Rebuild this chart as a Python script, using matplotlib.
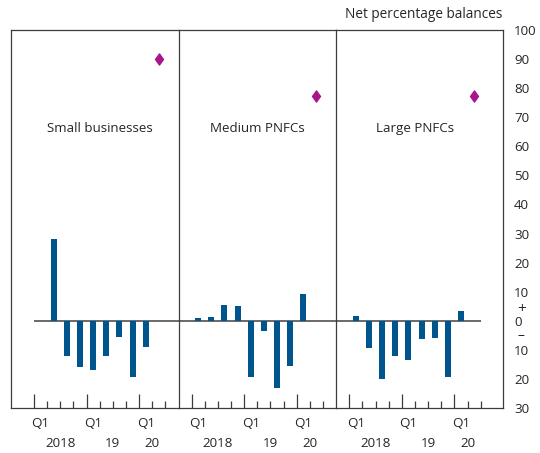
import numpy as np
import matplotlib
matplotlib.use("Agg")
import matplotlib.pyplot as plt
from matplotlib.path import Path
from matplotlib.transforms import blended_transform_factory

# ── Data: net percentage balances, 2018 Q1 – 2020 Q1, plus 2020 Q2 expectation ──
QUARTERS = ["2018 Q1", "2018 Q2", "2018 Q3", "2018 Q4",
            "2019 Q1", "2019 Q2", "2019 Q3", "2019 Q4",
            "2020 Q1", "2020 Q2"]

PANELS = ["Small businesses", "Medium PNFCs", "Large PNFCs"]

small_balance = [np.nan, 28, -12, -16, -17, -12, -5.5, -19.5, -9]
medium_balance = [1, 1.3, 5.5, 5.1, -19.3, -3.5, -23.2, -15.5, 9.2]
large_balance = [1.7, -9.2, -20, -12, -13.4, -6.1, -5.8, -19.3, 3.5]

expected_q2 = [90, 77.2, 77.4]

Y_TICKS = [100, 90, 80, 70, 60, 50, 40, 30, 20, 10, 0, -10, -20, -30]
Y_LABELS = ["100", "90", "80", "70", "60", "50", "40", "30", "20", "10",
            "0", "10", "20", "30"]

Q1_POS = [0, 4, 8]
YEAR_POS = [1.5, 5.5, 8.5]
YEAR_LABELS = ["2018", "19", "20"]

# ── Style ──
BAR_COLOR = "#00558E"
DIAMOND_COLOR = "#A8168E"
LINE_COLOR = "#3C3C3C"
TEXT_COLOR = "#262626"

plt.rcParams["font.family"] = ["Open Sans", "DejaVu Sans"]
plt.rcParams["font.size"] = 9.2

# x-limits per panel (in quarter slots) so the panels share a common spacing
XLIMS = [(-2.25, 10.57), (-1.42, 10.46), (-1.54, 11.2)]
widths = [hi - lo for lo, hi in XLIMS]

fig = plt.figure(figsize=(5.4, 4.53), dpi=100)
gs = fig.add_gridspec(1, 3, width_ratios=widths, wspace=0,
                      left=11 / 540, right=503 / 540,
                      top=1 - 30 / 453, bottom=1 - 408 / 453)
axes = [fig.add_subplot(gs[0, i]) for i in range(3)]

# tall thin diamond marker
diamond = Path([(0, 1), (0.72, 0), (0, -1), (-0.72, 0), (0, 1)],
               [Path.MOVETO, Path.LINETO, Path.LINETO, Path.LINETO, Path.CLOSEPOLY])

series = [small_balance, medium_balance, large_balance]
x = np.arange(len(QUARTERS))
boundaries = np.arange(-0.5, len(QUARTERS), 1.0)
minor_y = [v for v in Y_TICKS if v not in (100, 0, -30)]

for i, ax in enumerate(axes):
    vals = np.array(series[i], dtype=float)
    ax.bar(x[:len(vals)], vals, width=0.46, color=BAR_COLOR, zorder=3)
    ax.plot(x[-1], expected_q2[i], marker=diamond, markersize=8,
            color=DIAMOND_COLOR, linestyle="none", zorder=4)

    lo, hi = XLIMS[i]
    ax.set_xlim(lo, hi)
    ax.set_ylim(-30, 100)

    # zero line runs continuously across the quarter range of all panels
    z_lo = boundaries[0] if i == 0 else lo
    z_hi = boundaries[-1] if i == 2 else hi
    ax.hlines(0, z_lo, z_hi, color="#505050", linewidth=1.2, zorder=2)

    ax.text(4.5, 66, PANELS[i], ha="center", va="center",
            color=TEXT_COLOR, fontsize=9.6)

    # spines: one divider line between neighbouring panels
    for side in ["top", "bottom", "left", "right"]:
        ax.spines[side].set_color(LINE_COLOR)
        ax.spines[side].set_linewidth(0.9)
    ax.spines["right"].set_visible(i == 2)
    ax.spines["left"].set_visible(True)

    # x ticks at quarter boundaries, longer at year starts
    ax.set_xticks([b for j, b in enumerate(boundaries) if j in (0, 4, 8)])
    ax.set_xticks([b for j, b in enumerate(boundaries) if j not in (0, 4, 8)],
                  minor=True)
    ax.tick_params(axis="x", which="major", direction="in", length=10,
                   width=0.9, color=LINE_COLOR, labelbottom=False)
    ax.tick_params(axis="x", which="minor", direction="in", length=5,
                   width=0.9, color=LINE_COLOR, labelbottom=False)

    trans = blended_transform_factory(ax.transData, ax.transAxes)
    for p in Q1_POS:
        ax.text(p, -0.04, "Q1", transform=trans, ha="center", va="center",
                color=TEXT_COLOR, fontsize=9.6)
    for p, lab in zip(YEAR_POS, YEAR_LABELS):
        ax.text(p, -0.093, lab, transform=trans, ha="center", va="center",
                color=TEXT_COLOR, fontsize=9.6)

    # y ticks: labels on the far right only, inward marks on outer edges
    ax.set_yticks(Y_TICKS)
    ax.set_yticks(minor_y, minor=True)
    ax.tick_params(axis="y", which="major", length=0, left=False, right=(i == 2),
                   labelleft=False, labelright=(i == 2), labelcolor=TEXT_COLOR,
                   labelsize=9.6, pad=8)
    ax.tick_params(axis="y", which="minor", direction="in", length=11,
                   width=0.9, color=LINE_COLOR,
                   left=(i == 0), right=(i == 2))
    if i == 2:
        ax.set_yticklabels(Y_LABELS)

# sign markers beside the zero label
ax_r = axes[2]
tr = blended_transform_factory(ax_r.transAxes, ax_r.transData)
ax_r.text(1.11, 4.0, "+", transform=tr, ha="center", va="center",
          color=TEXT_COLOR, fontsize=11)
ax_r.text(1.11, -5.0, "\u2013", transform=tr, ha="center", va="center",
          color=TEXT_COLOR, fontsize=10)

fig.text(502 / 540, 1 - 14 / 453, "Net percentage balances", ha="right",
         va="center", color=TEXT_COLOR, fontsize=9.8)

fig.savefig("out.png", dpi=100)
